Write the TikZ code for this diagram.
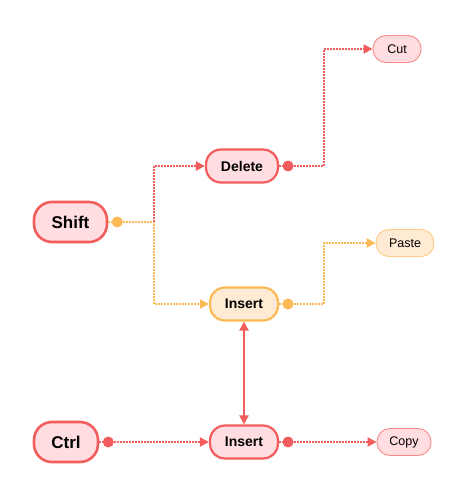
\documentclass[tikz,border=0pt]{standalone}
\usepackage{fontspec}
\setmainfont{Liberation Sans}
\usetikzlibrary{arrows.meta}
\definecolor{rd}{HTML}{F25C5C}
\definecolor{rdfill}{HTML}{FFDDE0}
\definecolor{rdthin}{HTML}{F58A8A}
\definecolor{og}{HTML}{FBBA55}
\definecolor{ogfill}{HTML}{FFEBD3}
\definecolor{ogthin}{HTML}{FCCB85}
\tikzset{
  bigbox/.style={draw=rd, fill=rdfill, line width=2.6pt, rounded corners=18pt, minimum width=71pt, minimum height=40pt, inner sep=0pt, font=\fontsize{17}{20}\selectfont\bfseries},
  midred/.style={draw=rd, fill=rdfill, line width=2.2pt, rounded corners=15pt, minimum width=70pt, minimum height=33pt, inner sep=0pt, font=\fontsize{14}{17}\selectfont\bfseries},
  midorange/.style={draw=og, fill=ogfill, line width=2.2pt, rounded corners=15pt, minimum width=68pt, minimum height=33pt, inner sep=0pt, font=\fontsize{14}{17}\selectfont\bfseries},
  leafred/.style={draw=rdthin, fill=rdfill, line width=0.9pt, rounded corners=13pt, minimum height=27pt, inner sep=0pt, font=\fontsize{12.5}{15}\selectfont},
  leaforange/.style={draw=ogthin, fill=ogfill, line width=0.9pt, rounded corners=13pt, minimum height=27pt, inner sep=0pt, font=\fontsize{12.5}{15}\selectfont},
  dotline/.style={line width=2.5pt, dash pattern=on 1.6pt off 1.4pt, -{Triangle[length=9pt,width=9pt]}},
  startdot/.style={circle, inner sep=0pt, minimum size=11pt},
}
\begin{document}
\begin{tikzpicture}[x=1pt,y=-1pt]
\useasboundingbox (0,0) rectangle (469,497);
% nodes
\node[bigbox, minimum width=73pt] (shift) at (70.5,222) {Shift};
\node[bigbox, minimum width=64pt] (ctrl) at (66,442) {Ctrl};
\node[midred, minimum width=72pt] (delete) at (242,166) {Delete};
\node[midorange] (insA) at (244,304) {Insert};
\node[midred, minimum width=68pt] (insB) at (244,442) {Insert};
\node[leafred, minimum width=48pt] (cut) at (397,49) {Cut};
\node[leaforange, minimum width=58pt] (paste) at (405,243) {Paste};
\node[leafred, minimum width=54pt] (copy) at (404,442) {Copy};
% elbow coordinates
\coordinate (e1) at (154,222);
\coordinate (e2) at (324,166);
\coordinate (e3) at (324,304);
% connectors
\draw[dotline, og] (shift.east) -- (e1) |- (insA.west);
\draw[dotline, rd] (e1) |- (delete.west);
\draw[dotline, rd] (delete.east) -- (e2) |- (cut.west);
\draw[dotline, og] (insA.east) -- (e3) |- (paste.west);
\draw[dotline, rd] (ctrl.east) -- (insB.west);
\draw[dotline, rd] (insB.east) -- (copy.west);
\draw[rd, line width=2.5pt, {Triangle[length=9pt,width=9pt]}-{Triangle[length=9pt,width=9pt]}] (insA.south) -- (insB.north);
% start dots
\node[startdot, fill=og] (d1) at ([xshift=9pt]shift.east) {};
\node[startdot, fill=rd] (d2) at ([xshift=9pt]delete.east) {};
\node[startdot, fill=og] (d3) at ([xshift=9pt]insA.east) {};
\node[startdot, fill=rd] (d4) at ([xshift=9pt]ctrl.east) {};
\node[startdot, fill=rd] (d5) at ([xshift=9pt]insB.east) {};
\end{tikzpicture}
\end{document}
